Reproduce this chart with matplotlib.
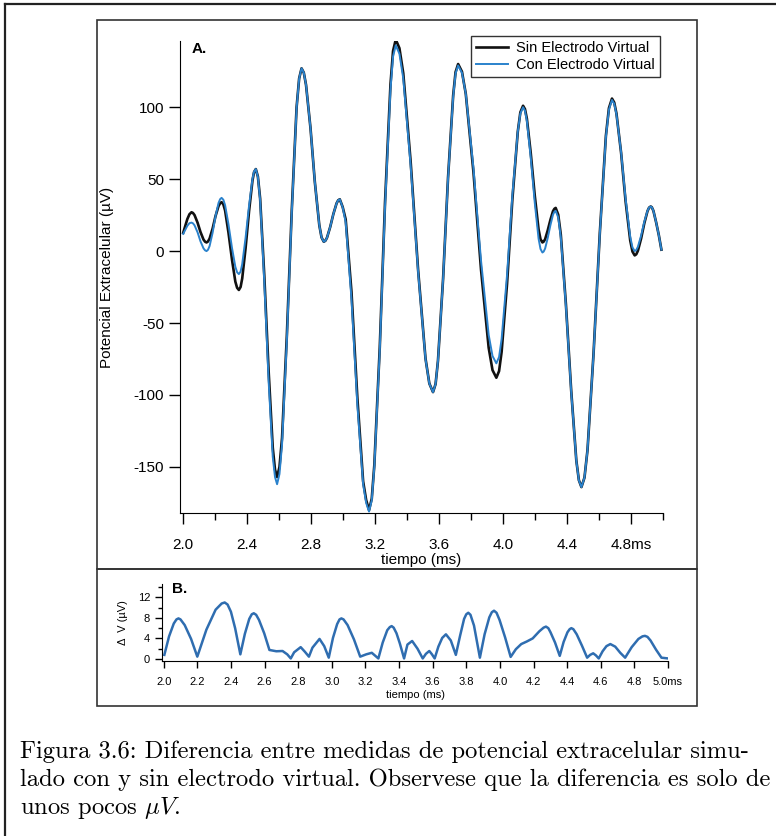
import numpy as np
import matplotlib
matplotlib.use("Agg")
import matplotlib.pyplot as plt
from matplotlib.lines import Line2D
from matplotlib.patches import Rectangle

plt.rcParams['font.family'] = ['Liberation Sans', 'DejaVu Sans']
plt.rcParams['axes.unicode_minus'] = False
plt.rcParams['mathtext.fontset'] = 'cm'

# --- datos panel A: potencial extracelular (uV) ---
tiempo_a = [
    2.000, 2.013, 2.026, 2.039, 2.052,
    2.061, 2.071, 2.090, 2.108, 2.127, 2.137, 2.146,
    2.155, 2.165, 2.184, 2.202, 2.221, 2.231, 2.240,
    2.251, 2.262, 2.283, 2.305, 2.326, 2.337, 2.348,
    2.359, 2.369, 2.390, 2.412, 2.433, 2.443, 2.454,
    2.467, 2.481, 2.507, 2.534, 2.560, 2.574, 2.587,
    2.602, 2.618, 2.648, 2.679, 2.709, 2.725, 2.740,
    2.754, 2.768, 2.796, 2.823, 2.851, 2.865, 2.879,
    2.889, 2.899, 2.919, 2.939, 2.959, 2.969, 2.979,
    2.997, 3.016, 3.052, 3.089, 3.125, 3.144, 3.162,
    3.179, 3.195, 3.229, 3.262, 3.296, 3.312, 3.329,
    3.352, 3.376, 3.422, 3.469, 3.515, 3.539, 3.562,
    3.578, 3.593, 3.625, 3.656, 3.688, 3.703, 3.719,
    3.743, 3.767, 3.815, 3.862, 3.910, 3.934, 3.958,
    3.975, 3.991, 4.025, 4.058, 4.092, 4.108, 4.125,
    4.137, 4.149, 4.173, 4.198, 4.222, 4.234, 4.246,
    4.254, 4.263, 4.279, 4.296, 4.312, 4.321, 4.329,
    4.345, 4.361, 4.393, 4.426, 4.458, 4.474, 4.490,
    4.509, 4.528, 4.566, 4.605, 4.643, 4.662, 4.681,
    4.695, 4.709, 4.738, 4.766, 4.795, 4.809, 4.823,
    4.833, 4.843, 4.863, 4.883, 4.903, 4.913, 4.923,
    4.930, 4.940, 4.957, 4.974, 4.990]

sin_electrodo = [
    12.7, 17.5, 22.3, 25.6, 27.0,
    26.5, 25.0, 19.7, 13.3, 8.0, 6.5, 6.0,
    6.7, 8.7, 15.7, 24.3, 31.3, 33.3, 34.0,
    32.5, 28.2, 12.9, -5.9, -21.2, -25.5, -27.0,
    -24.9, -19.0, 2.0, 28.0, 49.0, 54.9, 57.0,
    51.8, 36.6, -16.9, -83.1, -136.6, -151.8, -157.0,
    -150.0, -129.9, -58.9, 28.9, 99.9, 120.0, 127.0,
    124.0, 115.5, 85.4, 48.1, 18.0, 9.5, 6.5,
    7.2, 9.3, 16.7, 25.8, 33.2, 35.3, 36.0,
    30.7, 22.0, -28.0, -102.0, -160.0, -173.0, -180.0,
    -172.0, -148.8, -67.0, 34.0, 115.8, 139.0, 147.0,
    141.0, 123.6, 62.4, -13.4, -74.6, -92.0, -98.0,
    -92.4, -76.2, -19.2, 51.2, 108.2, 124.4, 130.0,
    124.7, 109.2, 54.7, -12.7, -67.2, -82.7, -88.0,
    -83.4, -70.0, -22.7, 35.7, 83.0, 96.4, 101.0,
    98.7, 91.9, 68.2, 38.8, 15.1, 8.3, 6.0,
    6.6, 8.3, 14.3, 21.7, 27.7, 29.4, 30.0,
    25.3, 11.5, -37.0, -97.0, -145.5, -159.2, -164.0,
    -157.4, -138.2, -70.7, 12.7, 80.2, 99.4, 106.0,
    103.3, 95.6, 68.3, 34.7, 7.4, -0.3, -3.0,
    -2.2, 0.2, 8.7, 19.3, 27.8, 30.2, 31.0,
    30.5, 28.0, 20.0, 11.0, 1.0]

con_electrodo = [
    12.0, 14.8, 17.6, 19.4, 19.8,
    19.3, 17.9, 13.0, 6.8, 1.9, 0.5, 0.0,
    0.9, 3.5, 12.8, 24.2, 33.5, 36.1, 37.0,
    35.7, 31.9, 18.7, 2.3, -10.9, -14.7, -16.0,
    -14.2, -9.0, 9.2, 31.8, 50.0, 55.2, 57.0,
    51.6, 35.5, -21.0, -90.0, -143.0, -157.0, -162.0,
    -154.9, -134.4, -62.2, 27.2, 99.4, 119.9, 127.0,
    124.0, 115.5, 85.4, 48.1, 18.0, 9.5, 6.5,
    7.2, 9.3, 16.7, 25.8, 33.2, 35.3, 36.0,
    30.5, 20.0, -33.0, -107.0, -162.0, -175.0, -181.0,
    -173.1, -150.1, -69.1, 31.1, 112.1, 135.1, 143.0,
    137.1, 120.0, 59.7, -14.7, -75.0, -92.1, -98.0,
    -92.4, -76.3, -19.6, 50.6, 107.3, 123.4, 129.0,
    123.9, 109.2, 57.5, -6.5, -58.2, -72.9, -78.0,
    -73.6, -61.0, -16.5, 38.5, 83.0, 95.6, 100.0,
    97.5, 90.4, 65.1, 33.9, 8.6, 1.5, -1.0,
    -0.3, 1.8, 9.0, 18.0, 25.2, 27.3, 28.0,
    23.3, 9.7, -38.3, -97.7, -145.7, -159.3, -164.0,
    -157.4, -138.3, -71.1, 12.1, 79.3, 98.4, 105.0,
    102.4, 95.0, 68.7, 36.3, 10.0, 2.6, 0.0,
    0.8, 3.0, 10.7, 20.3, 28.0, 30.2, 31.0,
    30.5, 28.0, 20.0, 11.0, 1.0]

# --- datos panel B: diferencia (uV) ---
tiempo_b = [
    2.004, 2.032, 2.060, 2.076, 2.088, 2.100, 2.125, 2.163, 2.200,
    2.254, 2.309, 2.345, 2.363, 2.380, 2.400, 2.425, 2.456,
    2.483, 2.509, 2.524, 2.536, 2.550, 2.567, 2.598, 2.629,
    2.670, 2.707, 2.735, 2.756, 2.776, 2.815, 2.840, 2.864,
    2.885, 2.927, 2.955, 2.982,
    3.007, 3.032, 3.046, 3.057, 3.070, 3.094, 3.132, 3.169,
    3.205, 3.238, 3.277,
    3.303, 3.330, 3.345, 3.356, 3.368, 3.385, 3.405, 3.430,
    3.450, 3.478, 3.510, 3.541, 3.560, 3.580, 3.596, 3.612,
    3.634, 3.657, 3.679, 3.708, 3.738,
    3.763, 3.787, 3.800, 3.812, 3.825, 3.846, 3.881,
    3.909, 3.937, 3.952, 3.965, 3.980, 3.998, 4.031, 4.064,
    4.095, 4.127, 4.160, 4.195, 4.235, 4.260, 4.274, 4.288, 4.301, 4.328, 4.356,
    4.379, 4.402, 4.415, 4.425, 4.437, 4.457, 4.488, 4.519,
    4.537, 4.555, 4.571, 4.588, 4.611, 4.634, 4.657, 4.686, 4.716, 4.745,
    4.784, 4.824, 4.848, 4.863, 4.878, 4.896, 4.929, 4.961, 5.000]

delta_v = [
    0.8, 4.4, 6.9, 7.7, 7.9, 7.7, 6.6, 3.9, 0.45,
    5.7, 9.6, 10.8, 11.0, 10.6, 9.2, 6.0, 0.9,
    4.9, 7.8, 8.7, 8.9, 8.6, 7.6, 5.0, 1.75,
    1.5, 1.55, 0.9, 0.1, 1.3, 2.3, 1.4, 0.45,
    2.2, 3.9, 2.5, 0.25,
    4.1, 6.8, 7.7, 7.9, 7.7, 6.6, 3.8, 0.45,
    0.9, 1.2, 0.1,
    3.2, 5.6, 6.2, 6.4, 6.1, 5.0, 3.0, 0.1,
    2.8, 3.5, 2.0, 0.1, 1.0, 1.55, 0.9, 0.1,
    2.4, 4.1, 4.8, 3.6, 0.8,
    4.5, 7.8, 8.7, 9.0, 8.6, 6.5, 0.25,
    4.8, 8.1, 9.1, 9.4, 9.0, 7.6, 4.2, 0.4,
    1.9, 2.9, 3.4, 4.0, 5.4, 6.1, 6.3, 6.0, 5.2, 3.2, 0.6,
    3.3, 5.2, 5.8, 6.0, 5.8, 4.8, 2.6, 0.25,
    0.8, 1.1, 0.7, 0.1, 1.5, 2.5, 2.9, 2.4, 1.2, 0.25,
    2.3, 3.9, 4.4, 4.5, 4.3, 3.6, 1.8, 0.25, 0.1]

ticks_a_x = [2.0, 2.4, 2.8, 3.2, 3.6, 4.0, 4.4, 4.8]
etiquetas_a_x = ['2.0', '2.4', '2.8', '3.2', '3.6', '4.0', '4.4', '4.8ms']
ticks_a_x_menor = [2.2, 2.6, 3.0, 3.4, 3.8, 4.2, 4.6, 5.0]
ticks_a_y = [-150, -100, -50, 0, 50, 100]

ticks_b_x = [2.0, 2.2, 2.4, 2.6, 2.8, 3.0, 3.2, 3.4, 3.6, 3.8, 4.0, 4.2, 4.4, 4.6, 4.8, 5.0]
etiquetas_b_x = ['2.0', '2.2', '2.4', '2.6', '2.8', '3.0', '3.2', '3.4', '3.6', '3.8',
                 '4.0', '4.2', '4.4', '4.6', '4.8', '5.0ms']
ticks_b_y = [0, 4, 8, 12]
ticks_b_y_menor = [2, 6, 10, 14]

W, H = 776, 836
fig = plt.figure(figsize=(W / 100, H / 100), dpi=100)


def caja(x0, y0, x1, y1):
    # posicion en pixeles (desde arriba) -> coordenadas de figura
    return [x0 / W, 1 - y1 / H, (x1 - x0) / W, (y1 - y0) / H]


# marcos
fig.add_artist(Line2D([5 / W, 1], [1 - 4 / H, 1 - 4 / H], color='#222222', lw=1.6))
fig.add_artist(Line2D([5 / W, 5 / W], [0, 1 - 4 / H], color='#222222', lw=1.6))
for (x0, y0, x1, y1) in [(97, 20, 697, 569), (97, 569, 697, 706)]:
    r = caja(x0, y0, x1, y1)
    fig.add_artist(Rectangle((r[0], r[1]), r[2], r[3], transform=fig.transFigure,
                             fill=False, edgecolor='#333333', lw=1.2))

# ---------- panel A ----------
ax = fig.add_axes(caja(180, 41, 663, 513))
ax.plot(tiempo_a, sin_electrodo, color='#111111', lw=1.9, solid_joinstyle='round',
        label='Sin Electrodo Virtual')
ax.plot(tiempo_a, con_electrodo, color='#2a82cc', lw=1.4, solid_joinstyle='round',
        label='Con Electrodo Virtual')
ax.set_xlim(1.98, 5.0)
ax.set_ylim(-182, 146)
ax.set_xticks(ticks_a_x)
ax.set_xticklabels(etiquetas_a_x)
ax.set_xticks(ticks_a_x_menor, minor=True)
ax.set_yticks(ticks_a_y)
ax.set_yticklabels([str(v) for v in ticks_a_y])
for s in ['top', 'right']:
    ax.spines[s].set_visible(False)
ax.tick_params(which='major', direction='out', length=8, width=1, labelsize=11)
ax.tick_params(axis='x', which='major', pad=10)
ax.tick_params(which='minor', direction='out', length=5, width=1)
ax.set_xlabel('tiempo (ms)', fontsize=11, labelpad=1)
ax.set_ylabel('Potencial Extracelular (µV)', fontsize=11, labelpad=14)
ax.text(0.025, 0.997, 'A.', transform=ax.transAxes, fontsize=11, fontweight='bold', va='top')
leg = ax.legend(loc='upper right', bbox_to_anchor=(1.008, 1.027), fontsize=10.5,
                frameon=True, fancybox=False, handlelength=2.2, borderpad=0.35,
                labelspacing=0.25, handletextpad=0.5)
leg.get_frame().set_edgecolor('black')
leg.get_frame().set_linewidth(1.0)

# ---------- panel B ----------
bx = fig.add_axes(caja(162, 584, 668, 660.5))
bx.plot(tiempo_b, delta_v, color='#2f6db0', lw=1.8, solid_joinstyle='round')
bx.set_xlim(1.99, 5.0)
bx.set_ylim(-0.3, 14.6)
bx.set_xticks(ticks_b_x)
bx.set_xticklabels(etiquetas_b_x)
bx.set_yticks(ticks_b_y)
bx.set_yticks(ticks_b_y_menor, minor=True)
for s in ['top', 'right']:
    bx.spines[s].set_visible(False)
bx.tick_params(which='major', direction='out', length=5, width=1, labelsize=8)
bx.tick_params(axis='x', which='major', pad=7)
bx.tick_params(which='minor', direction='out', length=3, width=1)
bx.set_xlabel('tiempo (ms)', fontsize=8, labelpad=2)
bx.set_ylabel('Δ  V (µV)', fontsize=8, labelpad=7)
bx.text(0.02, 1.02, 'B.', transform=bx.transAxes, fontsize=11, fontweight='bold', va='top')

# ---------- leyenda de la figura ----------
lineas = ['Figura 3.6: Diferencia entre medidas de potencial extracelular simu-',
          'lado con y sin electrodo virtual. Observese que la diferencia es solo de',
          r'unos pocos $\mu V$.']
for i, txt in enumerate(lineas):
    fig.text(20 / W, 1 - (758 + 28 * i) / H, txt, fontfamily='cmr10', fontsize=17.7,
             va='baseline', ha='left')

fig.savefig('out.png', dpi=100)
